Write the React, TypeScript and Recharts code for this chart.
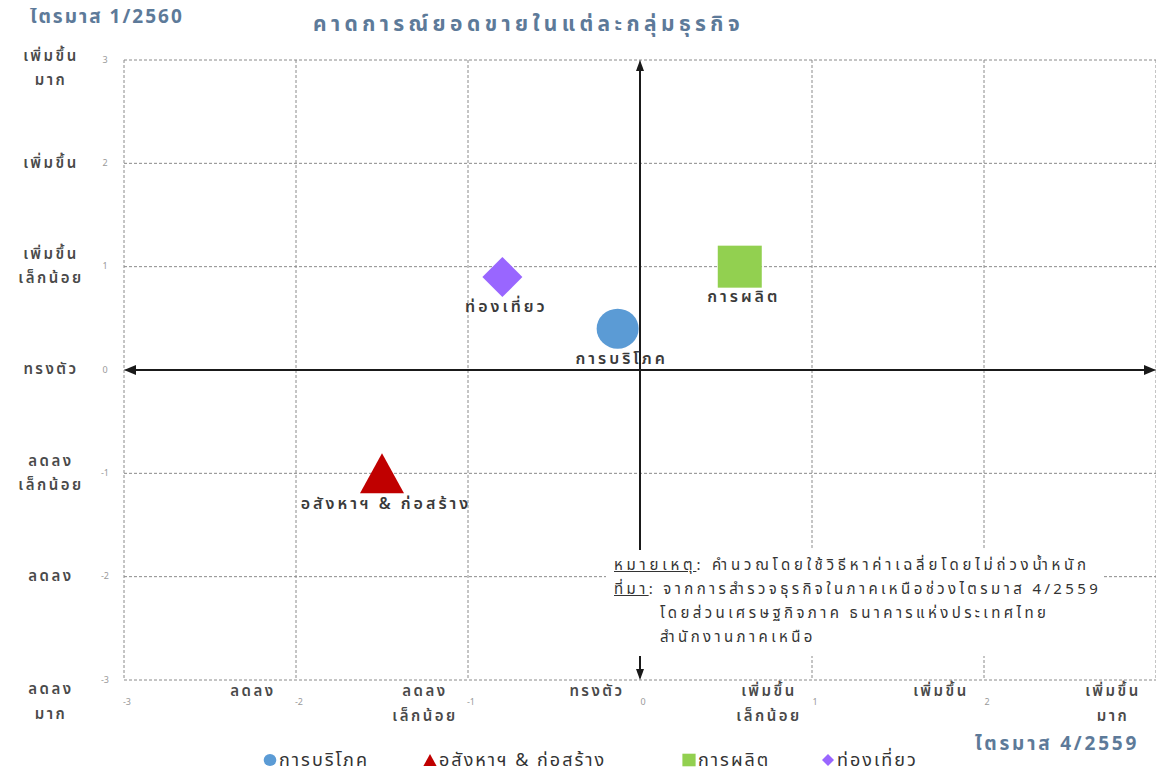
import React from 'react';
import { ScatterChart, Scatter, XAxis, YAxis, CartesianGrid, ReferenceLine, Legend } from 'recharts';

const categories = ['การบริโภค', 'อสังหาฯ & ก่อสร้าง', 'การผลิต', 'ท่องเที่ยว'];
const xValues = [-0.13, -1.5, 0.58, -0.8];
const yValues = [0.4, -1.0, 1.0, 0.9];
const seriesColors = ['#5b9bd5', '#c00000', '#92d050', '#9966ff'];
const seriesShapes = ['circle', 'triangle', 'square', 'diamond'];
const axisTicks = [-3, -2, -1, 0, 1, 2, 3];
const yTickLabels = ['ลดลง\nมาก', 'ลดลง', 'ลดลง\nเล็กน้อย', 'ทรงตัว', 'เพิ่มขึ้น\nเล็กน้อย', 'เพิ่มขึ้น', 'เพิ่มขึ้น\nมาก'];
const xTickLabels = ['', 'ลดลง', 'ลดลง\nเล็กน้อย', 'ทรงตัว', 'เพิ่มขึ้น\nเล็กน้อย', 'เพิ่มขึ้น', 'เพิ่มขึ้น\nมาก'];
const titleText = 'คาดการณ์ยอดขายในแต่ละกลุ่มธุรกิจ';
const yAxisTitle = 'ไตรมาส 1/2560';
const xAxisTitle = 'ไตรมาส 4/2559';
const noteLabel = 'หมายเหตุ';
const noteText = ': คำนวณโดยใช้วิธีหาค่าเฉลี่ยโดยไม่ถ่วงน้ำหนัก';
const sourceLabel = 'ที่มา';
const sourceText = ': จากการสำรวจธุรกิจในภาคเหนือช่วงไตรมาส 4/2559';
const sourceMore = ['โดยส่วนเศรษฐกิจภาค ธนาคารแห่งประเทศไทย', 'สำนักงานภาคเหนือ'];

const FONT = "Tahoma, 'Noto Sans Thai', 'DejaVu Sans', 'Noto Sans', sans-serif";
const TITLE_COLOR = '#5d7a99';
const LEGEND_ITEM_WIDTHS = [160, 259, 139, 130];

const seriesData = categories.map((name, i) => [{ name, x: xValues[i], y: yValues[i] }]);

function drawSymbol(kind: string, cx: number, cy: number, s: number, color: string) {
  if (kind === 'circle') return <ellipse cx={cx} cy={cy} rx={21 * s} ry={20 * s} fill={color} />;
  if (kind === 'square') return <rect x={cx - 22 * s} y={cy - 21 * s} width={44 * s} height={42 * s} fill={color} />;
  if (kind === 'diamond')
    return <polygon points={`${cx},${cy - 20 * s} ${cx + 20 * s},${cy} ${cx},${cy + 20 * s} ${cx - 20 * s},${cy}`} fill={color} />;
  return <polygon points={`${cx},${cy - 20 * s} ${cx + 22 * s},${cy + 20 * s} ${cx - 22 * s},${cy + 20 * s}`} fill={color} />;
}

const makeShape = (i: number) => (props: any) => {
  const { cx, cy, payload } = props;
  if (cx == null || cy == null) return <g />;
  return (
    <g>
      {drawSymbol(seriesShapes[i], cx, cy, 1, seriesColors[i])}
      <text
        x={cx + 4}
        y={cy + 31}
        textAnchor="middle"
        dominantBaseline="middle"
        fontSize={16}
        fontWeight={600}
        fill="#3a3a3a"
        fontFamily={FONT}
        style={{ letterSpacing: '3px' }}
      >
        {payload?.name}
      </text>
    </g>
  );
};

const YTick = (props: any) => {
  const { x, y, payload } = props;
  const idx = axisTicks.indexOf(payload.value);
  const lines = (yTickLabels[idx] || '').split('\n');
  let ys: number[];
  if (lines.length === 1) ys = [y];
  else if (payload.value === 3) ys = [y - 3, y + 21];
  else if (payload.value === -3) ys = [y + 10, y + 35];
  else ys = [y - 12, y + 12];
  return (
    <g>
      <text x={x - 19} y={y} textAnchor="middle" dominantBaseline="middle" fontSize={9} fill="#9a9a9a" fontFamily={FONT}>
        {payload.value}
      </text>
      {lines.map((l, k) => (
        <text
          key={k}
          x={x - 73}
          y={ys[k]}
          textAnchor="middle"
          dominantBaseline="middle"
          fontSize={15}
          fontWeight={600}
          fill="#4a4a4a"
          fontFamily={FONT}
          style={{ letterSpacing: '2.5px' }}
        >
          {l}
        </text>
      ))}
    </g>
  );
};

const XTick = (props: any) => {
  const { x, y, payload } = props;
  const idx = axisTicks.indexOf(payload.value);
  const lines = (xTickLabels[idx] || '').split('\n').filter((l) => l);
  return (
    <g>
      <text x={x + 3} y={y + 22} textAnchor="middle" dominantBaseline="middle" fontSize={9} fill="#9a9a9a" fontFamily={FONT}>
        {payload.value}
      </text>
      {lines.map((l, k) => (
        <text
          key={k}
          x={x - 43}
          y={y + 12 + k * 25}
          textAnchor="middle"
          dominantBaseline="middle"
          fontSize={15}
          fontWeight={600}
          fill="#4a4a4a"
          fontFamily={FONT}
          style={{ letterSpacing: '2.5px' }}
        >
          {l}
        </text>
      ))}
    </g>
  );
};

const hAxisShape = (p: any) => {
  const { x1, y1, x2 } = p;
  const a = Math.min(x1, x2);
  const b = Math.max(x1, x2);
  return (
    <g>
      <line x1={a + 4} y1={y1} x2={b - 4} y2={y1} stroke="#1a1a1a" strokeWidth={2} />
      <polygon points={`${a},${y1} ${a + 12},${y1 - 5} ${a + 12},${y1 + 5}`} fill="#1a1a1a" />
      <polygon points={`${b},${y1} ${b - 12},${y1 - 5} ${b - 12},${y1 + 5}`} fill="#1a1a1a" />
    </g>
  );
};

const vAxisShape = (p: any) => {
  const { x1, y1, y2 } = p;
  const a = Math.min(y1, y2);
  const b = Math.max(y1, y2);
  return (
    <g>
      <line x1={x1} y1={a + 4} x2={x1} y2={b - 4} stroke="#1a1a1a" strokeWidth={2} />
      <polygon points={`${x1},${a} ${x1 - 4},${a + 11} ${x1 + 4},${a + 11}`} fill="#1a1a1a" />
      <polygon points={`${x1},${b} ${x1 - 4},${b - 11} ${x1 + 4},${b - 11}`} fill="#1a1a1a" />
    </g>
  );
};

const LegendContent = () => (
  <div style={{ display: 'flex', justifyContent: 'flex-start', alignItems: 'center', height: 28, paddingLeft: 255, fontFamily: FONT }}>
    {categories.map((c, i) => (
      <div key={c} style={{ display: 'flex', alignItems: 'center', width: LEGEND_ITEM_WIDTHS[i], flex: 'none' }}>
        <svg width={14} height={14} style={{ flex: 'none' }}>
          {drawSymbol(seriesShapes[i], 7, 7, 0.3, seriesColors[i])}
        </svg>
        <span style={{ fontSize: 18, color: '#333', marginLeft: 2, letterSpacing: '2px', whiteSpace: 'nowrap' }}>{c}</span>
      </div>
    ))}
  </div>
);

export default function App() {
  return (
    <div style={{ position: 'relative', width: 1156, height: 766, fontFamily: FONT }}>
      <ScatterChart width={1156} height={766} margin={{ top: 52, right: 8, bottom: 6, left: 0 }}>
        <CartesianGrid stroke="#8a8a8a" strokeDasharray="3 2" />
        <XAxis
          type="number"
          dataKey="x"
          domain={[-3, 3]}
          ticks={axisTicks}
          height={60}
          axisLine={false}
          tickLine={false}
          tickSize={0}
          tickMargin={0}
          interval={0}
          tick={<XTick />}
        />
        <YAxis
          type="number"
          dataKey="y"
          domain={[-3, 3]}
          ticks={axisTicks}
          width={116}
          axisLine={false}
          tickLine={false}
          tickSize={0}
          tickMargin={0}
          interval={0}
          tick={<YTick />}
        />
        <ReferenceLine y={0} shape={hAxisShape} />
        <ReferenceLine x={0} shape={vAxisShape} />
        {categories.map((c, i) => (
          <Scatter key={c} name={c} data={seriesData[i]} fill={seriesColors[i]} shape={makeShape(i)} isAnimationActive={false} />
        ))}
        <Legend verticalAlign="bottom" content={<LegendContent />} wrapperStyle={{ bottom: 0 }} />
      </ScatterChart>
      <div style={{ position: 'absolute', left: 22, top: -1, fontSize: 19, fontWeight: 700, color: TITLE_COLOR, lineHeight: '22px', letterSpacing: '2px', whiteSpace: 'nowrap' }}>
        {yAxisTitle}
      </div>
      <div style={{ position: 'absolute', left: 305, top: 5, fontSize: 21, fontWeight: 700, color: TITLE_COLOR, lineHeight: '24px', letterSpacing: '4.4px', whiteSpace: 'nowrap' }}>
        {titleText}
      </div>
      <div style={{ position: 'absolute', left: 967, top: 726, fontSize: 19, fontWeight: 700, color: TITLE_COLOR, lineHeight: '22px', letterSpacing: '2.8px', whiteSpace: 'nowrap' }}>
        {xAxisTitle}
      </div>
      <div
        style={{
          position: 'absolute',
          left: 598,
          top: 542,
          width: 496,
          height: 106,
          background: '#fff',
          fontSize: 15,
          color: '#333',
          lineHeight: '24px',
          paddingTop: 4,
          paddingLeft: 8,
          boxSizing: 'border-box',
          letterSpacing: '3.4px',
          whiteSpace: 'nowrap',
        }}
      >
        <div style={{ letterSpacing: '3.8px' }}>
          <span style={{ textDecoration: 'underline' }}>{noteLabel}</span>
          {noteText}
        </div>
        <div>
          <span style={{ textDecoration: 'underline' }}>{sourceLabel}</span>
          {sourceText}
        </div>
        {sourceMore.map((l) => (
          <div key={l} style={{ paddingLeft: 46 }}>{l}</div>
        ))}
      </div>
    </div>
  );
}
